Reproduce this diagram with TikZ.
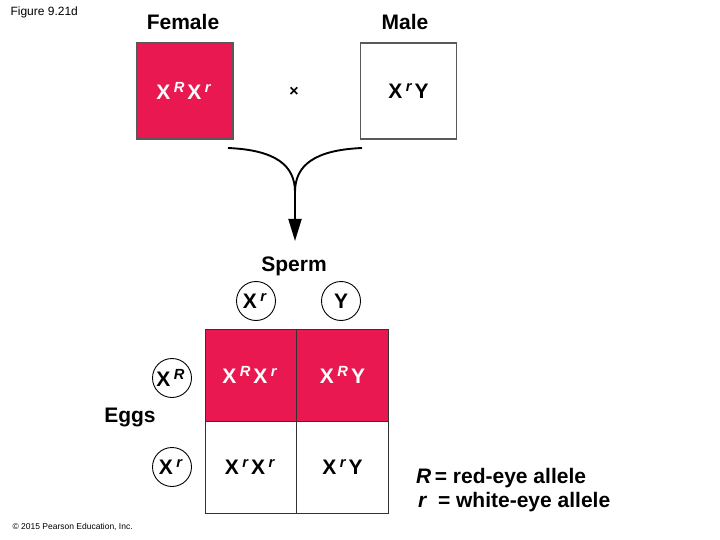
\documentclass[tikz,border=0pt]{standalone}
\usepackage{fontspec}
\setmainfont{Liberation Sans}
\usetikzlibrary{arrows.meta}
\definecolor{crim}{RGB}{234,24,80}
\newcommand\supR{\,\textsuperscript{\itshape R\,}}
\newcommand\supr{\,\textsuperscript{\itshape r\,}}
\tikzset{
  big/.style={font=\fontsize{21}{25}\selectfont\bfseries},
  head/.style={font=\fontsize{21}{25}\selectfont\bfseries},
  gbox/.style={draw=black!65, line width=1.3pt, minimum width=96pt, minimum height=96pt, inner sep=0pt, big},
  cell/.style={draw=black!80, line width=1pt, minimum width=92pt, minimum height=92pt, inner sep=0pt, big},
  gam/.style={circle, draw=black, line width=0.9pt, minimum size=39pt, inner sep=0pt, big},
  curve/.style={line width=1.9pt, black}
}
\begin{document}
\begin{tikzpicture}[x=1pt,y=-1pt]
\useasboundingbox (0,0) rectangle (720,540);
% header
\node[font=\fontsize{12}{14}\selectfont, anchor=west] (fig) at (7,12) {Figure 9.21d};
\node[head] (female) at (183,22) {Female};
\node[head] (male) at (405,22) {Male};
% parents
\node[gbox, fill=crim, text=white] (fbox) at (185,91) {X\supR X\supr};
\node[gbox, fill=white] (mbox) at (408.5,91) {X\supr Y};
\node[font=\fontsize{16}{18}\selectfont\bfseries] (cross) at (294,92) {\texttimes};
% cross arrow
\coordinate (cl) at (228,148);
\coordinate (cr) at (362,148);
\coordinate (jn) at (295,192);
\coordinate (tip) at (295,241);
\draw[curve] (cl) .. controls (275,150) and (295,165) .. (jn);
\draw[curve] (cr) .. controls (315,150) and (295,165) .. (jn);
\draw[curve, -{Triangle[length=22pt,width=13pt]}] (jn) -- (tip);
\node[head] (sperm) at (294,266) {Sperm};
% sperm
\node[gam] (sxr) at (256,301) {X\supr};
\node[gam] (sy) at (341,301) {Y};
% grid
\node[cell, fill=crim, text=white] (c11) at (251,375) {X\supR X\supr};
\node[cell, fill=crim, text=white] (c12) at (342.5,375) {X\supR Y};
\node[cell, fill=white] (c21) at (251,467) {X\supr X\supr};
\node[cell, fill=white] (c22) at (342.5,467) {X\supr Y};
% eggs
\node[gam] (exR) at (172,378) {X\supR};
\node[gam] (exr) at (172,467) {X\supr};
\node[head] (eggs) at (130,417) {Eggs};
% legend
\node[big, anchor=west, inner sep=0pt] (leg1) at (416,478) {{\itshape R}\,= red-eye allele};
\node[big, anchor=west, inner sep=0pt] (leg2) at (418,502) {{\itshape r}\ \ = white-eye allele};
% copyright
\node[font=\fontsize{8.5}{10}\selectfont, anchor=west] (copy) at (9,527) {© 2015 Pearson Education, Inc.};
\end{tikzpicture}
\end{document}
